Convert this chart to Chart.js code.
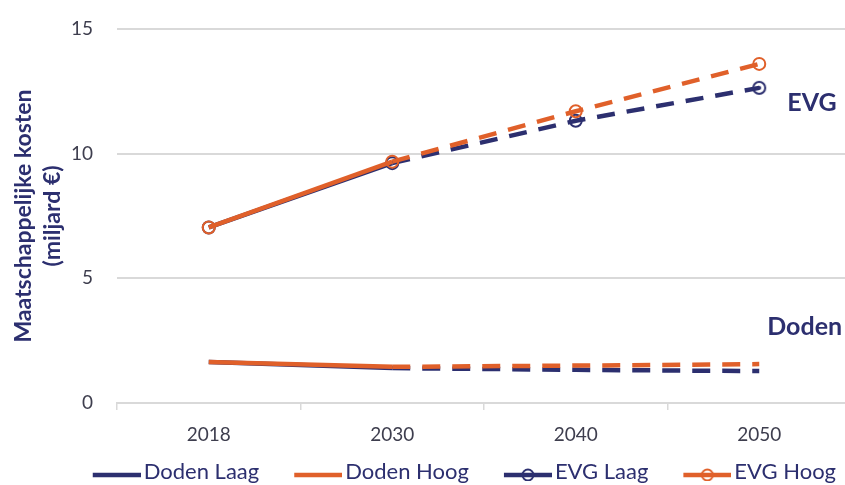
<!DOCTYPE html>
<html><head><meta charset="utf-8">
<script src="https://cdn.jsdelivr.net/npm/chart.js@4.4.1/dist/chart.umd.min.js"></script>
<style>
html,body{margin:0;padding:0;overflow:hidden;background:#fff;width:845px;height:485px}
#wrap{width:851px;height:485px}
canvas{display:block}
</style></head><body><div id="wrap"><canvas id="c" width="851" height="485"></canvas></div>
<script>
// ---- data ----
const categories = ['2018', '2030', '2040', '2050'];
const dodenLaag = [1.64, 1.40, 1.33, 1.28];
const dodenHoog = [1.64, 1.45, 1.50, 1.56];
const evgLaag = [7.04, 9.62, 11.32, 12.64];
const evgHoog = [7.04, 9.68, 11.70, 13.60];
const yTicks = [0, 5, 10, 15];
const seriesNames = ['Doden Laag', 'Doden Hoog', 'EVG Laag', 'EVG Hoog'];
const groupLabels = ['EVG', 'Doden'];
const yTitle = ['Maatschappelijke kosten', '(miljard €)'];

// ---- styles ----
const NAVY = '#2c2f6f';
const ORANGE = '#e0602a';
const GRID = '#d9d9d9';
const TICK = '#3e3e4e';

const LEG_A = 20;
const LEG_PAD = 15;
function legendImg(color, withCircle) {
  const a = LEG_A, W = a + 56, H = 18;
  const c = document.createElement('canvas');
  c.width = W; c.height = H;
  const g = c.getContext('2d');
  const ly = 12;
  g.strokeStyle = color; g.lineWidth = 4.5; g.lineCap = 'butt';
  g.beginPath(); g.moveTo(a + 8, ly); g.lineTo(W, ly); g.stroke();
  if (withCircle) {
    g.lineWidth = 2;
    g.beginPath(); g.arc(a + 8 + 24, ly, 5.5, 0, Math.PI * 2); g.fillStyle = '#fff'; g.fill(); g.stroke();
    g.lineWidth = 4.5;
    g.beginPath(); g.moveTo(a + 8 + 24 - 5, ly); g.lineTo(a + 8 + 24 + 5, ly); g.stroke();
  }
  return c;
}
function ringDot(color) {
  const c = document.createElement('canvas');
  c.width = 18; c.height = 18;
  const g = c.getContext('2d');
  g.strokeStyle = color; g.fillStyle = color; g.lineWidth = 2;
  g.beginPath(); g.arc(9, 9, 6, 0, Math.PI * 2); g.stroke();
  g.beginPath(); g.arc(9, 9, 2, 0, Math.PI * 2); g.fill();
  return c;
}
const legendImgs = [legendImg(NAVY, false), legendImg(ORANGE, false), legendImg(NAVY, true), legendImg(ORANGE, true)];
const navyRingDot = ringDot(NAVY);

const dashSeg = { borderDash: c => c.p0DataIndex >= 1 ? [18, 12] : [] };

const groupLabelPlugin = {
  id: 'groupLabels',
  afterDatasetsDraw(chart) {
    const { ctx, scales: { x, y } } = chart;
    ctx.save();
    ctx.font = 'bold 25px Lato';
    ctx.fillStyle = NAVY;
    ctx.textAlign = 'left';
    ctx.textBaseline = 'alphabetic';
    const xr = x.getPixelForValue(categories.length - 1);
    ctx.fillText(groupLabels[0], xr + 28, y.getPixelForValue(11.72));
    ctx.fillText(groupLabels[1], xr + 8, y.getPixelForValue(2.72));
    ctx.restore();
  }
};

const colors = [NAVY, ORANGE, NAVY, ORANGE];
const values = [dodenLaag, dodenHoog, evgLaag, evgHoog];
const orders = [3, 1, 2, 0];

const datasets = seriesNames.map((name, i) => {
  const isEvg = i >= 2;
  return {
    label: name,
    data: values[i],
    borderColor: colors[i],
    backgroundColor: colors[i],
    borderWidth: 4.5,
    tension: 0,
    fill: false,
    order: orders[i],
    segment: dashSeg,
    pointRadius: isEvg ? 6 : 0,
    pointHoverRadius: isEvg ? 6 : 0,
    pointBorderWidth: 2,
    pointBorderColor: colors[i],
    pointBackgroundColor: 'rgba(0,0,0,0)',
    pointStyle: (i === 2) ? (c => c.dataIndex === categories.length - 1 ? navyRingDot : 'circle') : 'circle'
  };
});

new Chart(document.getElementById('c'), {
  type: 'line',
  data: { labels: categories, datasets },
  plugins: [groupLabelPlugin],
  options: {
    responsive: false,
    animation: false,
    events: [],
    layout: { autoPadding: false, padding: { top: 29, left: 0, right: 0, bottom: 0 } },
    plugins: {
      tooltip: { enabled: false },
      legend: {
        position: 'bottom',
        align: 'end',
        maxHeight: 39,
        labels: {
          usePointStyle: true,
          pointStyleWidth: LEG_A + 40,
          padding: LEG_PAD,
          color: NAVY,
          font: { family: 'Lato', size: 22 },
          generateLabels: () => seriesNames.map((n, i) => ({
            text: n, pointStyle: legendImgs[i], datasetIndex: i, fontColor: NAVY,
            hidden: false, lineWidth: 0, strokeStyle: 'rgba(0,0,0,0)', fillStyle: 'rgba(0,0,0,0)'
          }))
        }
      }
    },
    scales: {
      x: {
        offset: true,
        afterFit: s => { s.height = 43; },
        grid: { offset: true, drawOnChartArea: false, drawTicks: true, tickLength: 7, color: GRID, lineWidth: 1.5 },
        border: { display: true, color: GRID, width: 2 },
        ticks: { color: TICK, font: { family: 'Lato', size: 19 }, padding: 13 }
      },
      y: {
        min: 0, max: 15,
        afterFit: s => { s.width = 117; },
        afterBuildTicks: s => { s.ticks = yTicks.map(v => ({ value: v })); },
        grid: { color: GRID, lineWidth: 2, drawTicks: true, tickLength: 24, tickColor: 'rgba(0,0,0,0)' },
        border: { display: false },
        ticks: { color: TICK, font: { family: 'Lato', size: 19 }, padding: 0 },
        title: {
          display: true,
          text: yTitle,
          color: NAVY,
          font: { family: 'Lato', size: 23, weight: 'bold', lineHeight: 1.26 },
          padding: { top: 9, bottom: 0 }
        }
      }
    }
  }
});
</script>
</body></html>
